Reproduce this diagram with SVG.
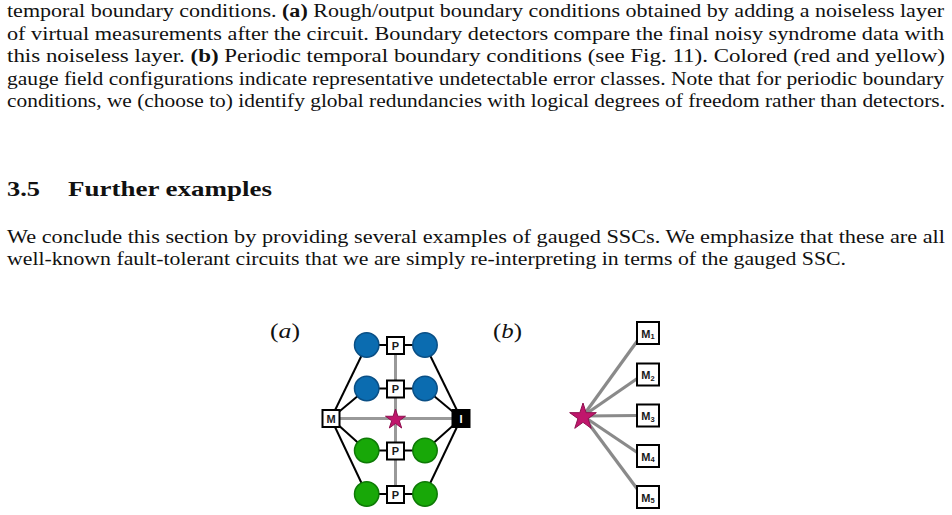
<svg xmlns="http://www.w3.org/2000/svg" width="952" height="515" viewBox="0 0 952 515">
<defs>
<style>
.body{font-family:"Liberation Serif","Times New Roman",serif;font-size:18px;fill:#111}
.b{font-weight:bold}
.head{font-family:"Liberation Serif","Times New Roman",serif;font-size:21px;font-weight:bold;fill:#111}
.lab{font-family:"Liberation Serif","Times New Roman",serif;font-size:22px;fill:#111}
.box{fill:#fff;stroke:#000;stroke-width:2}
.bl{fill:#0b6cb0;stroke:#0a4f85;stroke-width:1.5}
.gr{fill:#18a808;stroke:#0e7a06;stroke-width:1.5}
.blk{stroke:#000;stroke-width:2;fill:none}
.gry{stroke:#999;stroke-width:3;fill:none}
.gry2{stroke:#8a8a8a;stroke-width:3.2;fill:none}
.bt{font-family:"Liberation Sans","DejaVu Sans",sans-serif;font-size:11px;font-weight:bold;fill:#1a1a1a;text-anchor:middle}
.star{fill:#c0166c;stroke:#8e0e4e;stroke-width:1}
</style>
</defs>

<g id="text">
<text class="body" x="7" y="17" textLength="937" lengthAdjust="spacingAndGlyphs">temporal boundary conditions. <tspan class="b">(a)</tspan> Rough/output boundary conditions obtained by adding a noiseless layer</text>
<text class="body" x="7" y="39.6" textLength="937" lengthAdjust="spacingAndGlyphs">of virtual measurements after the circuit. Boundary detectors compare the final noisy syndrome data with</text>
<text class="body" x="7" y="62.2" textLength="938" lengthAdjust="spacingAndGlyphs">this noiseless layer. <tspan class="b">(b)</tspan> Periodic temporal boundary conditions (see Fig. 11). Colored (red and yellow)</text>
<text class="body" x="7" y="84.8" textLength="937" lengthAdjust="spacingAndGlyphs">gauge field configurations indicate representative undetectable error classes. Note that for periodic boundary</text>
<text class="body" x="7" y="107.4" textLength="938" lengthAdjust="spacingAndGlyphs">conditions, we (choose to) identify global redundancies with logical degrees of freedom rather than detectors.</text>
<text class="head" x="7" y="196" textLength="33" lengthAdjust="spacingAndGlyphs">3.5</text>
<text class="head" x="68" y="196" textLength="204" lengthAdjust="spacingAndGlyphs">Further examples</text>
<text class="body" x="7" y="243.3" textLength="938" lengthAdjust="spacingAndGlyphs">We conclude this section by providing several examples of gauged SSCs.  We emphasize that these are all</text>
<text class="body" x="7" y="265.3" textLength="839" lengthAdjust="spacingAndGlyphs">well-known fault-tolerant circuits that we are simply re-interpreting in terms of the gauged SSC.</text>
<text class="lab" x="270" y="338" textLength="30" lengthAdjust="spacingAndGlyphs">(<tspan font-style="italic">a</tspan>)</text>
<text class="lab" x="493" y="338" textLength="29" lengthAdjust="spacingAndGlyphs">(<tspan font-style="italic">b</tspan>)</text>
</g>

<g id="connectors">
<line class="gry" x1="395.5" y1="345" x2="395.5" y2="494"/>
<line class="gry" x1="331" y1="418.5" x2="461" y2="418.5"/>
<line class="blk" x1="331" y1="418.5" x2="366.7" y2="345"/>
<line class="blk" x1="331" y1="418.5" x2="366.7" y2="388.5"/>
<line class="blk" x1="331" y1="418.5" x2="366.7" y2="450.5"/>
<line class="blk" x1="331" y1="418.5" x2="366.7" y2="494"/>
<line class="blk" x1="461" y1="418.5" x2="425" y2="345"/>
<line class="blk" x1="461" y1="418.5" x2="425" y2="388.5"/>
<line class="blk" x1="461" y1="418.5" x2="425" y2="450.5"/>
<line class="blk" x1="461" y1="418.5" x2="425" y2="494"/>
<line class="blk" x1="366.7" y1="345" x2="425" y2="345"/>
<line class="blk" x1="366.7" y1="388.5" x2="425" y2="388.5"/>
<line class="blk" x1="366.7" y1="450.5" x2="425" y2="450.5"/>
<line class="blk" x1="366.7" y1="494" x2="425" y2="494"/>
<line class="gry2" x1="583" y1="416" x2="638" y2="340"/>
<line class="gry2" x1="583" y1="416" x2="638" y2="378"/>
<line class="gry2" x1="583" y1="416" x2="638" y2="415.5"/>
<line class="gry2" x1="583" y1="416" x2="638" y2="453"/>
<line class="gry2" x1="583" y1="416" x2="638" y2="490"/>
</g>

<g id="circ-tl"><circle class="bl" cx="366.7" cy="345" r="12.2"/></g>
<g id="circ-tr"><circle class="bl" cx="425" cy="345" r="12.2"/></g>
<g id="circ-ml"><circle class="bl" cx="366.7" cy="388.5" r="12.2"/></g>
<g id="circ-mr"><circle class="bl" cx="425" cy="388.5" r="12.2"/></g>
<g id="circ-gl1"><circle class="gr" cx="366.7" cy="450.5" r="12.2"/></g>
<g id="circ-gr1"><circle class="gr" cx="425" cy="450.5" r="12.2"/></g>
<g id="circ-gl2"><circle class="gr" cx="366.7" cy="494" r="12.2"/></g>
<g id="circ-gr2"><circle class="gr" cx="425" cy="494" r="12.2"/></g>

<g id="p1"><rect class="box" x="387" y="337" width="17" height="17"/><text class="bt" x="395.5" y="349.5">P</text></g>
<g id="p2"><rect class="box" x="387" y="380.5" width="17" height="17"/><text class="bt" x="395.5" y="393">P</text></g>
<g id="p3"><rect class="box" x="387" y="442.5" width="17" height="17"/><text class="bt" x="395.5" y="455">P</text></g>
<g id="p4"><rect class="box" x="387" y="486" width="17" height="17"/><text class="bt" x="395.5" y="498.5">P</text></g>

<g id="m"><rect class="box" x="322.5" y="410" width="17" height="17"/><text class="bt" x="331" y="422.5">M</text></g>
<g id="i"><rect x="452.5" y="410" width="17" height="17" fill="#000" stroke="#000" stroke-width="2"/><text class="bt" x="461" y="422.5" style="fill:#fff">I</text></g>

<g id="star-a"><polygon class="star" points="395.5,409 397.86,416.26 405.49,416.26 399.32,420.74 401.67,428 395.5,423.51 389.33,428 391.69,420.74 385.51,416.26 393.14,416.26"/></g>
<g id="star-b"><polygon class="star" points="583,403 586.14,412.67 596.32,412.67 588.09,418.65 591.23,428.33 583,422.35 574.77,428.33 577.91,418.65 569.68,412.67 579.86,412.67"/></g>

<g id="m1"><rect class="box" x="637" y="322" width="22" height="22" stroke-width="2.6"/><text class="bt" x="648" y="337.5" font-size="11">M<tspan font-size="7.5" dy="1.5">1</tspan></text></g>
<g id="m2"><rect class="box" x="637" y="363.5" width="22" height="22" stroke-width="2.6"/><text class="bt" x="648" y="379" font-size="11">M<tspan font-size="7.5" dy="1.5">2</tspan></text></g>
<g id="m3"><rect class="box" x="637" y="404.5" width="22" height="22" stroke-width="2.6"/><text class="bt" x="648" y="420" font-size="11">M<tspan font-size="7.5" dy="1.5">3</tspan></text></g>
<g id="m4"><rect class="box" x="637" y="445" width="22" height="22" stroke-width="2.6"/><text class="bt" x="648" y="460.5" font-size="11">M<tspan font-size="7.5" dy="1.5">4</tspan></text></g>
<g id="m5"><rect class="box" x="637" y="486" width="22" height="22" stroke-width="2.6"/><text class="bt" x="648" y="501.5" font-size="11">M<tspan font-size="7.5" dy="1.5">5</tspan></text></g>
</svg>
